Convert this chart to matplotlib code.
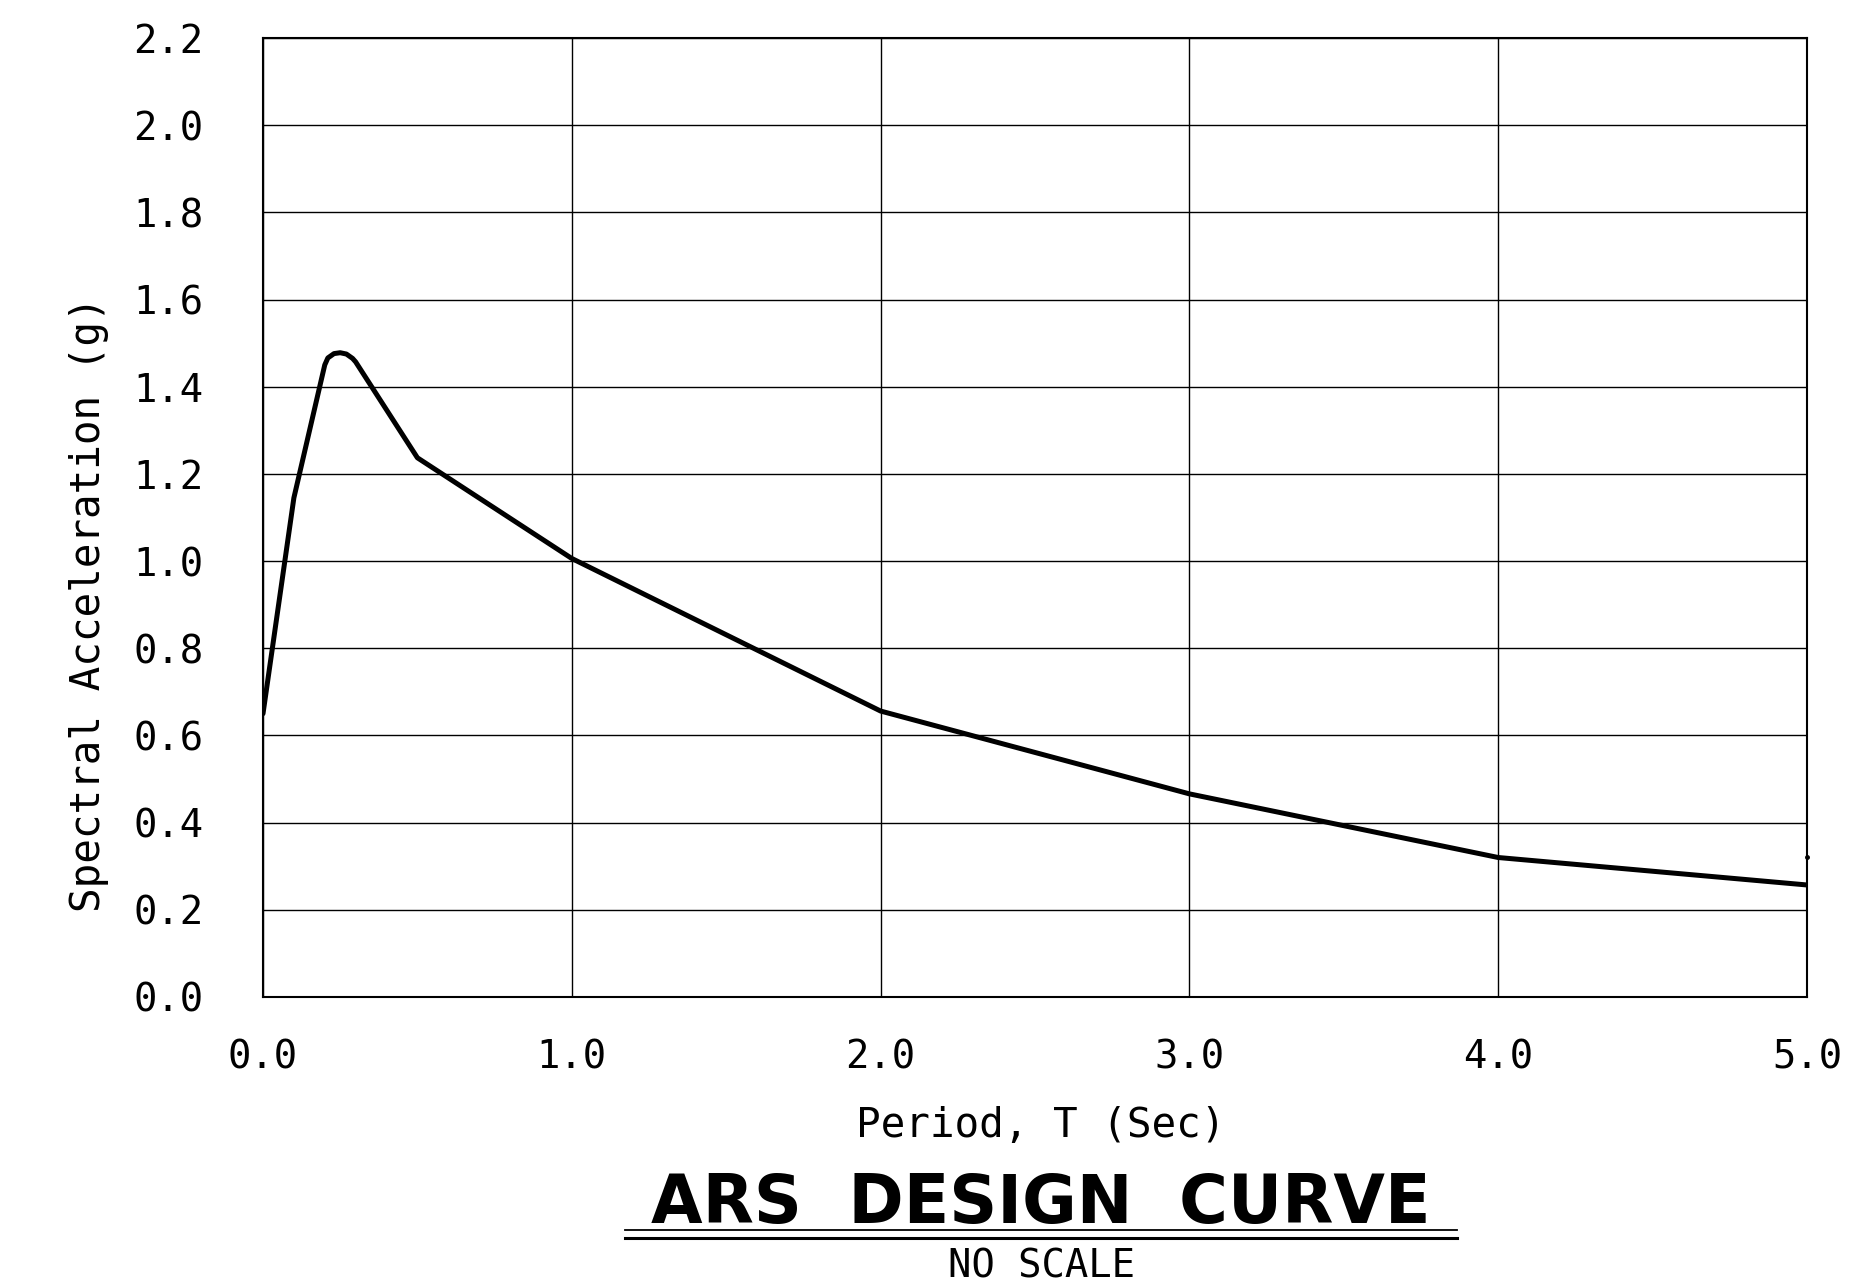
import matplotlib.pyplot as plt
import numpy as np

# ARS curve
period = [0.0, 0.1, 0.2, 0.21, 0.23, 0.25, 0.27, 0.29, 0.3, 0.5, 1.0, 2.0, 3.0, 4.0, 5.0]
sa = [0.65, 1.145, 1.45, 1.466, 1.476, 1.478, 1.475, 1.465, 1.457, 1.237, 1.006, 0.656, 0.466, 0.32, 0.257]
dot_t = [5.0]
dot_sa = [0.321]

xticks = np.arange(0, 6, 1)
yticks = np.arange(0, 2.21, 0.2)
xticklabels = ['%.1f' % v for v in xticks]
yticklabels = ['%.1f' % v for v in yticks]

mono = 'DejaVu Sans Mono'

fig = plt.figure(figsize=(18.68, 12.84), dpi=100)
ax = fig.add_axes([263 / 1868, 1 - 997 / 1284, 1544 / 1868, 959 / 1284])

ax.plot(period, sa, color='black', lw=3.6, solid_capstyle='round', solid_joinstyle='round', zorder=3)
ax.plot(dot_t, dot_sa, 'o', color='black', ms=2.5, clip_on=False, zorder=3)

ax.set_xlim(0, 5)
ax.set_ylim(0, 2.2)
ax.set_xticks(xticks)
ax.set_yticks(yticks)
ax.set_xticklabels(xticklabels, family=mono, fontsize=28)
ax.set_yticklabels(yticklabels, family=mono, fontsize=28)
ax.tick_params(axis='both', length=0)
ax.tick_params(axis='x', pad=30)
ax.tick_params(axis='y', pad=43)
ax.grid(True, color='black', lw=1.0)
for s in ax.spines.values():
    s.set_linewidth(1.5)
    s.set_color('black')

ax.set_xlabel('Period, T (Sec)', family=mono, fontsize=29.5)
ax.xaxis.label.set_va('center')
ax.xaxis.set_label_coords((1041 - 263) / 1544, (997 - 1126) / 959)
ax.set_ylabel('Spectral Acceleration (g)', family=mono, fontsize=29.5)
ax.yaxis.label.set_va('center')
ax.yaxis.set_label_coords((89 - 263) / 1544, 0.41)

# title block
fig.text(1041 / 1868, 1 - 1223 / 1284, 'ARS  DESIGN  CURVE', ha='center', va='baseline',
         family='DejaVu Sans', weight='bold', fontsize=48)
fig.add_artist(plt.Line2D([625 / 1868, 1457 / 1868], [1 - 1230 / 1284] * 2, color='black', lw=1.3))
fig.add_artist(plt.Line2D([625 / 1868, 1457 / 1868], [1 - 1238 / 1284] * 2, color='black', lw=2.2))
fig.text(1041 / 1868, 1 - 1277 / 1284, 'NO SCALE', ha='center', va='baseline',
         family=mono, fontsize=28)

fig.savefig('out.png', dpi=100)
